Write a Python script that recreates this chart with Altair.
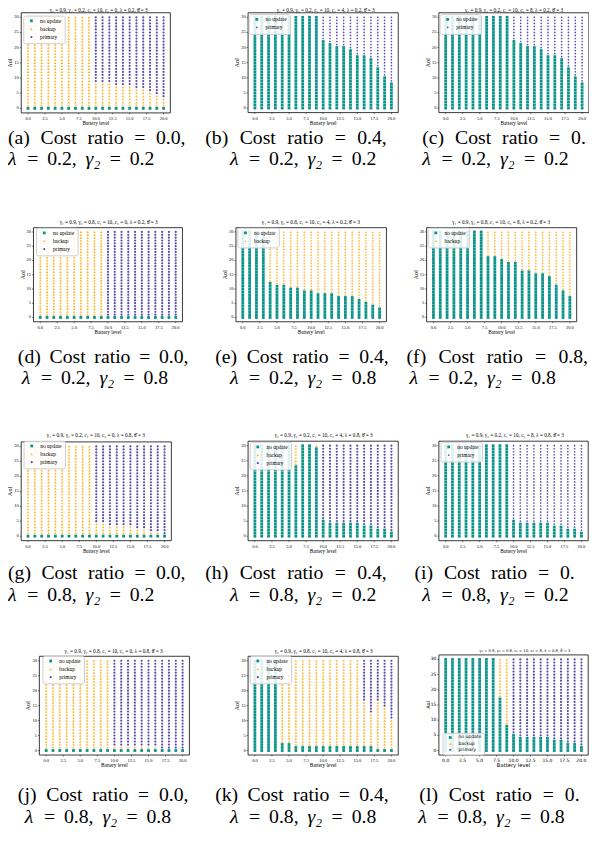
import altair as alt
import pandas as pd

# ---------------- data ----------------
BATTERY = list(range(21))          # battery level 0..20
AOI = list(range(31))              # AoI 0..30

# per panel: highest AoI that is "no update" and highest AoI that is "backup", per battery level
NU = {
    "a": [0, 0, 0, 0, 0, 0, 0, 0, 0, 0, 0, 0, 0, 0, 0, 0, 0, 0, 0, 0, 0],
    "b": [30, 30, 30, 30, 30, 30, 30, 30, 30, 30, 22, 21, 20, 20, 19, 17, 17, 16, 13, 10, 8],
    "c": [30, 30, 30, 30, 30, 30, 30, 30, 30, 30, 22, 21, 20, 20, 19, 17, 17, 16, 13, 10, 8],
    "d": [0, 0, 0, 0, 0, 0, 0, 0, 0, 0, 0, 0, 0, 0, 0, 0, 0, 0, 0, 0, 0],
    "e": [30, 30, 30, 30, 12, 11, 11, 10, 10, 9, 9, 8, 8, 8, 7, 7, 7, 6, 5, 4, 3],
    "f": [30, 30, 30, 30, 30, 30, 30, 30, 21, 21, 20, 19, 19, 16, 16, 15, 15, 14, 11, 9, 7],
    "g": [0, 0, 0, 0, 0, 0, 0, 0, 0, 0, 0, 0, 0, 0, 0, 0, 0, 0, 0, 0, 0],
    "h": [30, 30, 30, 30, 30, 30, 23, 30, 30, 29, 5, 4, 4, 4, 4, 4, 3, 3, 2, 2, 1],
    "i": [30, 30, 30, 30, 30, 30, 30, 30, 30, 30, 5, 4, 4, 4, 4, 4, 3, 3, 2, 2, 1],
    "j": [0, 0, 0, 0, 0, 0, 0, 0, 0, 0, 0, 0, 0, 0, 0, 0, 0, 0, 0, 0, 0],
    "k": [30, 30, 30, 30, 2, 2, 1, 1, 1, 1, 1, 1, 1, 1, 1, 1, 1, 1, 0, 0, 0],
    "l": [30, 30, 30, 30, 30, 30, 30, 30, 17, 8, 5, 4, 4, 4, 4, 4, 3, 3, 2, 2, 1],
}
BK = {
    "a": [30, 30, 30, 30, 30, 30, 30, 30, 30, 30, 8, 8, 8, 7, 7, 7, 6, 6, 5, 4, 3],
    "b": [30, 30, 30, 30, 30, 30, 30, 30, 30, 30, 22, 21, 20, 20, 19, 17, 17, 16, 13, 10, 8],
    "c": [30, 30, 30, 30, 30, 30, 30, 30, 30, 30, 22, 21, 20, 20, 19, 17, 17, 16, 13, 10, 8],
    "d": [30, 30, 30, 30, 30, 30, 30, 30, 30, 30, 0, 0, 0, 0, 0, 0, 0, 0, 0, 0, 0],
    "e": [30, 30, 30, 30, 30, 30, 30, 30, 30, 30, 30, 30, 30, 30, 30, 30, 30, 30, 30, 30, 30],
    "f": [30, 30, 30, 30, 30, 30, 30, 30, 30, 30, 30, 30, 30, 30, 30, 30, 30, 30, 30, 30, 30],
    "g": [30, 30, 30, 30, 30, 30, 30, 30, 30, 30, 4, 4, 3, 3, 3, 3, 2, 2, 1, 1, 0],
    "h": [30, 30, 30, 30, 30, 30, 30, 30, 30, 30, 5, 4, 4, 4, 4, 4, 3, 3, 2, 2, 1],
    "i": [30, 30, 30, 30, 30, 30, 30, 30, 30, 30, 5, 4, 4, 4, 4, 4, 3, 3, 2, 2, 1],
    "j": [30, 30, 30, 30, 30, 30, 30, 30, 30, 30, 1, 1, 1, 1, 1, 1, 1, 0, 0, 0, 0],
    "k": [30, 30, 30, 30, 30, 30, 30, 30, 30, 30, 30, 30, 30, 30, 30, 30, 16, 12, 16, 14, 10],
    "l": [30, 30, 30, 30, 30, 30, 30, 30, 30, 30, 5, 4, 4, 4, 4, 4, 3, 3, 2, 2, 1],
}
LEGEND_ENTRIES = {
    "a": ["no update", "backup", "primary"],
    "b": ["no update", "primary"],
    "c": ["no update", "primary"],
    "d": ["no update", "backup", "primary"],
    "e": ["no update", "backup"],
    "f": ["no update", "backup"],
    "g": ["no update", "backup", "primary"],
    "h": ["no update", "backup", "primary"],
    "i": ["no update", "primary"],
    "j": ["no update", "backup", "primary"],
    "k": ["no update", "backup", "primary"],
    "l": ["no update", "backup", "primary"],
}
GAMMA2 = {"a": "0.2", "b": "0.2", "c": "0.2", "d": "0.8", "e": "0.8", "f": "0.8",
          "g": "0.2", "h": "0.2", "i": "0.2", "j": "0.8", "k": "0.8", "l": "0.8"}
C2 = {"a": "0", "b": "4", "c": "8", "d": "0", "e": "4", "f": "8",
      "g": "0", "h": "4", "i": "8", "j": "0", "k": "4", "l": "8"}
LAM = {"a": "0.2", "b": "0.2", "c": "0.2", "d": "0.2", "e": "0.2", "f": "0.2",
       "g": "0.8", "h": "0.8", "i": "0.8", "j": "0.8", "k": "0.8", "l": "0.8"}
CAPTION1 = {"a": "(a) Cost ratio = 0.0,", "b": "(b) Cost ratio = 0.4,", "c": "(c) Cost ratio = 0.",
            "d": "(d) Cost ratio = 0.0,", "e": "(e) Cost ratio = 0.4,", "f": "(f) Cost ratio = 0.8,",
            "g": "(g) Cost ratio = 0.0,", "h": "(h) Cost ratio = 0.4,", "i": "(i) Cost ratio = 0.",
            "j": "(j) Cost ratio = 0.0,", "k": "(k) Cost ratio = 0.4,", "l": "(l) Cost ratio = 0."}
X_TICKS = [0, 2.5, 5, 7.5, 10, 12.5, 15, 17.5, 20]
Y_TICKS = [0, 5, 10, 15, 20, 25, 30]

# ---------------- styles & layout (page pixels) ----------------
COLORS = {"no update": "#0a9488", "backup": "#ffb21f", "primary": "#5b4fa6"}
SHAPES = {"no update": "square", "backup": "triangle-up", "primary": "circle"}
SIZES = {"no update": 8, "backup": 5, "primary": 3}

# x0,x20: pixel of battery 0 / 20 ; y0,y30: pixel of AoI 0 / 30 ; legend top-left ; title centre
LAYOUT = {
    "a": dict(x0=28.3, x20=165.7, y0=104.0, y30=11.7, lx=23.5, ly=10.0, tx=100, ty=4),
    "b": dict(x0=258.3, x20=396.7, y0=103.7, y30=11.7, lx=252.0, ly=8.5, tx=330, ty=4),
    "c": dict(x0=451.7, x20=590.0, y0=103.7, y30=11.7, lx=445.5, ly=8.5, tx=521, ty=4),
    "d": dict(x0=40.7, x20=178.0, y0=316.0, y30=229.3, lx=36.5, ly=225.0, tx=110, ty=219),
    "e": dict(x0=246.0, x20=384.7, y0=316.0, y30=229.3, lx=240.5, ly=225.0, tx=315, ty=219),
    "f": dict(x0=439.3, x20=577.6, y0=316.0, y30=229.3, lx=433.5, ly=225.0, tx=508, ty=219),
    "g": dict(x0=28.3, x20=166.7, y0=537.7, y30=446.7, lx=23.8, ly=441.0, tx=97, ty=435),
    "h": dict(x0=258.3, x20=396.7, y0=537.7, y30=446.0, lx=253.0, ly=442.0, tx=328, ty=435),
    "i": dict(x0=451.7, x20=589.3, y0=537.7, y30=446.0, lx=446.5, ly=442.0, tx=522, ty=435),
    "j": dict(x0=46.7, x20=185.0, y0=755.0, y30=664.0, lx=43.0, ly=659.0, tx=115, ty=654),
    "k": dict(x0=258.3, x20=396.7, y0=755.0, y30=664.0, lx=253.0, ly=659.0, tx=328, ty=654),
    "l": dict(x0=451.7, x20=589.3, y0=755.0, y30=662.7, lx=448.5, ly=737.0, tx=532, ty=654),
}
# caption line 1: (left, right or None, centre-y); line 2: (left, centre-y)
CAP1 = {
    "a": (8, 188, 134.5), "b": (208, 392, 134.5), "c": (428, None, 134.5),
    "d": (18, 191, 356), "e": (218, 394, 356), "f": (412, 596, 356),
    "g": (8, 188, 575), "h": (208, 392, 575), "i": (420, None, 575),
    "j": (18, 191, 800), "k": (218, 394, 800), "l": (425, None, 800),
}
CAP2 = {
    "a": (8, 155), "b": (233, 155), "c": (428, 155),
    "d": (22, 377), "e": (233, 377), "f": (415, 377),
    "g": (8, 597), "h": (233, 597), "i": (428, 597),
    "j": (25, 822), "k": (233, 822), "l": (424, 822),
}
CAP_SIZE = 20
GAP1 = 11.0
GAP2 = 9.0
TIMES_W = {"(": .333, ")": .333, "a": .444, "b": .5, "c": .444, "d": .5, "e": .444, "f": .333,
           "g": .5, "h": .5, "i": .278, "j": .278, "k": .5, "l": .278, "C": .667, "o": .5, "s": .389,
           "t": .278, "r": .333, "=": .564, "0": .5, "2": .5, "4": .5, "8": .5, ".": .25, ",": .25,
           "λ": .52, "γ": .45, "₂": .32}

W, H = 589, 834   # drawing area (page minus the 8px margin)
M = 8
SERIF = "Liberation Serif"
SANS = "DejaVu Sans"


def panel(pid):
    L = LAYOUT[pid]
    rows = []
    for bx, nu, bk in zip(BATTERY, NU[pid], BK[pid]):
        for a in AOI:
            act = "no update" if a <= nu else ("backup" if a <= bk else "primary")
            rows.append({"battery": bx, "aoi": a, "action": act})
    df = pd.DataFrame(rows)

    ux = (L["x20"] - L["x0"]) / 20.0
    uy = (L["y0"] - L["y30"]) / 30.0
    xl, xr = L["x0"] - ux - M, L["x20"] + ux - M
    yb, yt = L["y0"] + 1.5 * uy - M, L["y30"] - 1.5 * uy - M
    font = SANS if pid == "l" else SERIF
    lab = 4.6 if pid == "l" else 4.5

    ent = LEGEND_ENTRIES[pid]
    leg = alt.Legend(orient="none", legendX=L["lx"] - M, legendY=L["ly"] - M, title=None,
                     fillColor="rgba(255,255,255,0.85)", strokeColor="#cccccc", cornerRadius=2,
                     padding=2.5, rowPadding=1.2, labelFont=font,
                     labelFontSize=5.5 if pid != "l" else 4.6,
                     labelColor="black", labelOffset=6, symbolOffset=3, symbolStrokeWidth=0,
                     labelLimit=200)
    xs = alt.Scale(domain=[-1, 21], range=[xl, xr], nice=False, zero=False)
    ys = alt.Scale(domain=[-1.5, 31.5], range=[yb, yt], nice=False, zero=False)

    pts = alt.Chart(df).mark_point(filled=True, opacity=1, strokeWidth=0).encode(
        x=alt.X("battery:Q", scale=xs, axis=None),
        y=alt.Y("aoi:Q", scale=ys, axis=None),
        color=alt.Color("action:N", scale=alt.Scale(domain=ent, range=[COLORS[e] for e in ent]), legend=leg),
        shape=alt.Shape("action:N", scale=alt.Scale(domain=ent, range=[SHAPES[e] for e in ent]), legend=leg),
        size=alt.Size("action:N", scale=alt.Scale(domain=ent, range=[SIZES[e] for e in ent]), legend=leg),
    )
    frame = alt.Chart(pd.DataFrame({"x1": [-1], "x2": [21], "y1": [-1.5], "y2": [31.5]})).mark_rect(
        fill="transparent", stroke="#222222", strokeWidth=0.9).encode(
        x=alt.X("x1:Q", scale=xs, axis=None), x2="x2:Q",
        y=alt.Y("y1:Q", scale=ys, axis=None), y2="y2:Q")

    xt = pd.DataFrame({"v": X_TICKS, "lab": [f"{v:.1f}" for v in X_TICKS], "edge": -1.5})
    yt_df = pd.DataFrame({"v": Y_TICKS, "lab": [str(v) for v in Y_TICKS], "edge": -1})
    xtick = alt.Chart(xt).mark_rule(color="black", strokeWidth=0.5, y2Offset=1.5).encode(
        x=alt.X("v:Q", scale=xs, axis=None), y=alt.Y("edge:Q", scale=ys, axis=None), y2="edge:Q")
    xlab = alt.Chart(xt).mark_text(font=font, fontSize=lab, color="black", baseline="top", dy=3).encode(
        x=alt.X("v:Q", scale=xs, axis=None), y=alt.Y("edge:Q", scale=ys, axis=None), text="lab:N")
    ytick = alt.Chart(yt_df).mark_rule(color="black", strokeWidth=0.5, x2Offset=-1.5).encode(
        y=alt.Y("v:Q", scale=ys, axis=None), x=alt.X("edge:Q", scale=xs, axis=None), x2="edge:Q")
    ylab = alt.Chart(yt_df).mark_text(font=font, fontSize=lab, color="black", align="right",
                                      baseline="middle", dx=-2.5).encode(
        y=alt.Y("v:Q", scale=ys, axis=None), x=alt.X("edge:Q", scale=xs, axis=None), text="lab:N")
    xtitle = alt.Chart(pd.DataFrame({"t": ["Battery level"], "xv": [10], "yv": [-1.5]})).mark_text(
        font=font, fontSize=5.3, color="black", baseline="middle", yOffset=10.5).encode(
        x=alt.X("xv:Q", scale=xs, axis=None), y=alt.Y("yv:Q", scale=ys, axis=None), text="t:N")
    ytitle = alt.Chart(pd.DataFrame({"t": ["AoI"], "xv": [-1], "yv": [15]})).mark_text(
        font=font, fontSize=6 if pid != "l" else 5, color="black", baseline="middle", angle=270,
        xOffset=-11).encode(
        x=alt.X("xv:Q", scale=xs, axis=None), y=alt.Y("yv:Q", scale=ys, axis=None), text="t:N")
    return alt.layer(frame, pts, xtick, xlab, ytick, ylab, xtitle, ytitle)


panels = [panel(p) for p in "abcdefghijkl"]

# panel titles
tt = pd.DataFrame([{
    "text": f"γ₁ = 0.9, γ₂ = {GAMMA2[p]}, c₁ = 10, c₂ = {C2[p]}, λ = {LAM[p]}, θ̂ = 3",
    "px": LAYOUT[p]["tx"] - M, "py": LAYOUT[p]["ty"] - M} for p in "abcdefghijk"])
titles = alt.Chart(tt).mark_text(font=SERIF, fontSize=5.3, color="black", baseline="middle").encode(
    x=alt.X("px:Q", scale=None, axis=None), y=alt.Y("py:Q", scale=None, axis=None), text="text:N")
tl = pd.DataFrame([{"text": f"γ₁ = 0.9, γ₂ = {GAMMA2['l']}, c₁ = 10, c₂ = {C2['l']}, λ = {LAM['l']}, θ̂ = 3",
                    "px": LAYOUT["l"]["tx"] - M, "py": LAYOUT["l"]["ty"] - M}])
title_l = alt.Chart(tl).mark_text(font=SANS, fontSize=3.8, color="black", baseline="middle").encode(
    x=alt.X("px:Q", scale=None, axis=None), y=alt.Y("py:Q", scale=None, axis=None), text="text:N")


# captions, laid out word by word so that each line is spaced like the reference
def tok_width(tok):
    return sum(TIMES_W.get(ch, 0.5) for ch in tok) * CAP_SIZE


cap_rows = []
for p in "abcdefghijkl":
    left, right, cy = CAP1[p]
    toks = CAPTION1[p].split(" ")
    widths = [tok_width(t) for t in toks]
    gap = GAP1 if right is None else (right - left - sum(widths)) / (len(toks) - 1)
    xpos = left
    for t, w in zip(toks, widths):
        cap_rows.append({"text": t, "px": xpos - M, "py": cy - M, "it": "normal"})
        xpos += w + gap
    left2, cy2 = CAP2[p]
    toks2 = ["λ", "=", f"{LAM[p]},", "γ₂", "=", GAMMA2[p]]
    xpos = left2
    for t in toks2:
        cap_rows.append({"text": t, "px": xpos - M, "py": cy2 - M,
                         "it": "italic" if t[0] in "λγ" else "normal"})
        xpos += tok_width(t) + GAP2
cap_df = pd.DataFrame(cap_rows)
captions = alt.Chart(cap_df[cap_df["it"] == "normal"]).mark_text(
    font=SERIF, fontSize=CAP_SIZE, color="black", align="left", baseline="middle").encode(
    x=alt.X("px:Q", scale=None, axis=None), y=alt.Y("py:Q", scale=None, axis=None), text="text:N")
captions_it = alt.Chart(cap_df[cap_df["it"] == "italic"]).mark_text(
    font=SERIF, fontSize=CAP_SIZE, fontStyle="italic", color="black", align="left",
    baseline="middle").encode(
    x=alt.X("px:Q", scale=None, axis=None), y=alt.Y("py:Q", scale=None, axis=None), text="text:N")

chart = alt.layer(*panels, titles, title_l, captions, captions_it).resolve_scale(
    x="independent", y="independent", color="independent", shape="independent", size="independent"
).resolve_legend(
    color="independent", shape="independent", size="independent"
).properties(
    width=W, height=H, autosize=alt.AutoSizeParams(type="none"), padding=0, background="white"
).configure_view(strokeWidth=0)

chart.save("out.html", embed_options={"renderer": "svg", "actions": False})
